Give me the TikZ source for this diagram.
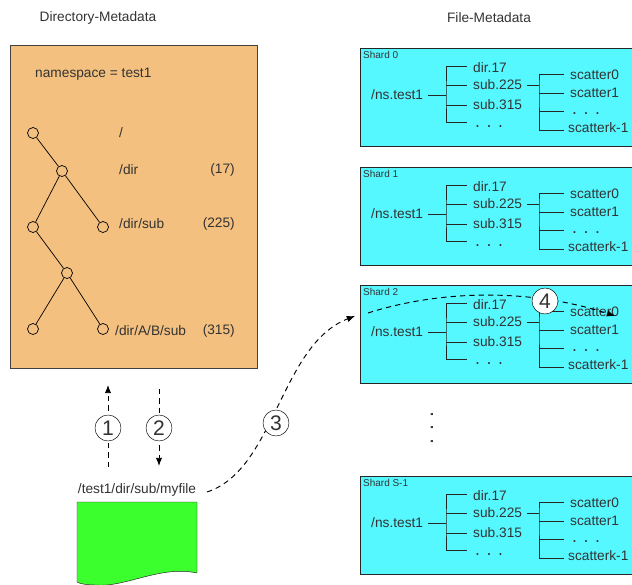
\documentclass[tikz,border=0pt]{standalone}
\usepackage{fontspec}
\setmainfont{Liberation Sans}
\usepackage{xcolor}
\usetikzlibrary{arrows.meta, positioning, calc}
\definecolor{dirfill}{HTML}{F4C07F}
\definecolor{shardfill}{HTML}{55F8FF}
\definecolor{filefill}{HTML}{3CFF2E}
\definecolor{inktext}{HTML}{333333}

\begin{document}
\begin{tikzpicture}[
  x=0.03cm, y=-0.03cm,
  label/.style={text=inktext, font=\fontsize{11.7}{13}\selectfont, inner sep=0pt},
  lefttext/.style={label, anchor=west},
  dotrow/.style={text=inktext, font=\fontsize{15}{15}\selectfont, inner sep=0pt, anchor=west, text height=2pt, text depth=0pt},
  small/.style={text=inktext, font=\fontsize{8.5}{10}\selectfont, inner sep=0pt, anchor=west},
  tree/.style={draw, circle, semithick, minimum size=0.33cm, inner sep=0pt},
  treeedge/.style={semithick, black},
  bracket/.style={thick, black!85},
  stepmark/.style={draw, circle, fill=white, minimum size=0.78cm, inner sep=0pt, text=inktext, font=\fontsize{18}{20}\selectfont},
  flow/.style={-{Latex[length=7pt,width=5.5pt]}, dash pattern=on 4.5pt off 3.5pt, thick}
]
\useasboundingbox (0,0) rectangle (632,585);
\clip (0,0) rectangle (632,585);

\node[label] (dirtitle) at (98,18) {Directory-Metadata};
\node[label] (filetitle) at (489,18) {File-Metadata};

% directory side
\node[draw=black!75, fill=dirfill, semithick, minimum width=7.41cm, minimum height=9.69cm, inner sep=0pt] (dirbox) at (133.5,206.5) {};
\node[lefttext] (nsname) at (35,74) {namespace = test1};

\node[tree] (t0) at (33,133) {};
\node[tree] (t1) at (62,171) {};
\node[tree] (t2) at (33,227) {};
\node[tree] (t3) at (103,227) {};
\node[tree] (t4) at (67,273) {};
\node[tree] (t5) at (33,329) {};
\node[tree] (t6) at (103,329) {};
\draw[treeedge] (t0) -- (t1);
\draw[treeedge] (t1) -- (t2);
\draw[treeedge] (t1) -- (t3);
\draw[treeedge] (t2) -- (t4);
\draw[treeedge] (t4) -- (t5);
\draw[treeedge] (t4) -- (t6);

\node[lefttext] (p0) at (119,133) {/};
\node[lefttext] (p1) at (119,170) {/dir};
\node[lefttext] (p2) at (119,224) {/dir/sub};
\node[lefttext] (p3) at (115,331) {/dir/A/B/sub};
\node[label, anchor=east] (c1) at (235,170) {(17)};
\node[label, anchor=east] (c2) at (235,224) {(225)};
\node[label, anchor=east] (c3) at (235,331) {(315)};

% shards
\foreach \s/\top/\name in {a/48/Shard 0, b/167/Shard 1, c/285/Shard 2, d/476/Shard S-1} {
  \begin{scope}[shift={(0,\top)}]
    \node[draw=black!85, fill=shardfill, semithick, minimum width=8.4cm, minimum height=2.94cm, inner sep=0pt, anchor=north west] (box\s) at (360,0) {};
    \node[small] (name\s) at (363,7) {\name};
    \node[lefttext] (ns\s) at (371,47) {/ns.test1};
    \node[lefttext] (dir\s) at (473,20) {dir.17};
    \node[lefttext] (sub\s) at (473,37) {sub.225};
    \node[lefttext] (oth\s) at (473,57) {sub.315};
    \node[dotrow] (dot\s) at (475,78) {. . .};
    \node[lefttext] (sca\s) at (570,27) {scatter0};
    \node[lefttext] (scb\s) at (570,45) {scatter1};
    \node[dotrow] (scc\s) at (572,65.5) {. . .};
    \node[lefttext] (scd\s) at (568,80) {scatterk-1};
    \coordinate (ta\s) at (446,47);
    \coordinate (tb\s) at (539,37);
    \draw[bracket, shorten <=4pt] (ns\s) -- (ta\s);
    \draw[bracket] (467,18) -| (ta\s) |- (467,74.5);
    \draw[bracket, shorten >=5pt] (ta\s |- sub\s) -- (sub\s);
    \draw[bracket, shorten >=5pt] (ta\s |- oth\s) -- (oth\s);
    \draw[bracket, shorten <=4pt] (sub\s) -- (tb\s);
    \draw[bracket] (564,26) -| (tb\s) |- (564,82);
    \draw[bracket, shorten >=5pt] (tb\s |- scb\s) -- (scb\s);
    \draw[bracket] (539,63) -- (564,63);
  \end{scope}
}
\node[rotate=90, text=inktext, font=\fontsize{18}{18}\selectfont, inner sep=0pt, text height=2pt, text depth=0pt] (vdots) at (432,428) {. . .};

% file
\node[label] (fname) at (137,490) {/test1/dir/sub/myfile};
\draw[fill=filefill, draw=black!85] (77,502) -- (197,502) -- (197,573)
  .. controls (160,565) and (125,588) .. (95,585)
  .. controls (88,585) and (80,584) .. (77,582) -- cycle;

% flows
\coordinate (a1s) at (108,467);
\coordinate (a1e) at (108,385);
\coordinate (a2s) at (159,389);
\coordinate (a2e) at (159,466);
\coordinate (a3s) at (207,492);
\coordinate (a3e) at (355,316);
\coordinate (a4s) at (368,313);
\coordinate (a4e) at (615,316);
\draw[flow] (a1s) -- (a1e);
\draw[flow] (a2s) -- (a2e);
\draw[flow] (a3s) .. controls (275,470) and (280,345) .. (a3e);
\draw[flow] (a4s) .. controls (440,290) and (530,288) .. (a4e);
\node[stepmark] (m1) at (108,428) {1};
\node[stepmark] (m2) at (159,428) {2};
\node[stepmark] (m3) at (276,423) {3};
\node[stepmark] (m4) at (545,301) {4};
\end{tikzpicture}
\end{document}
